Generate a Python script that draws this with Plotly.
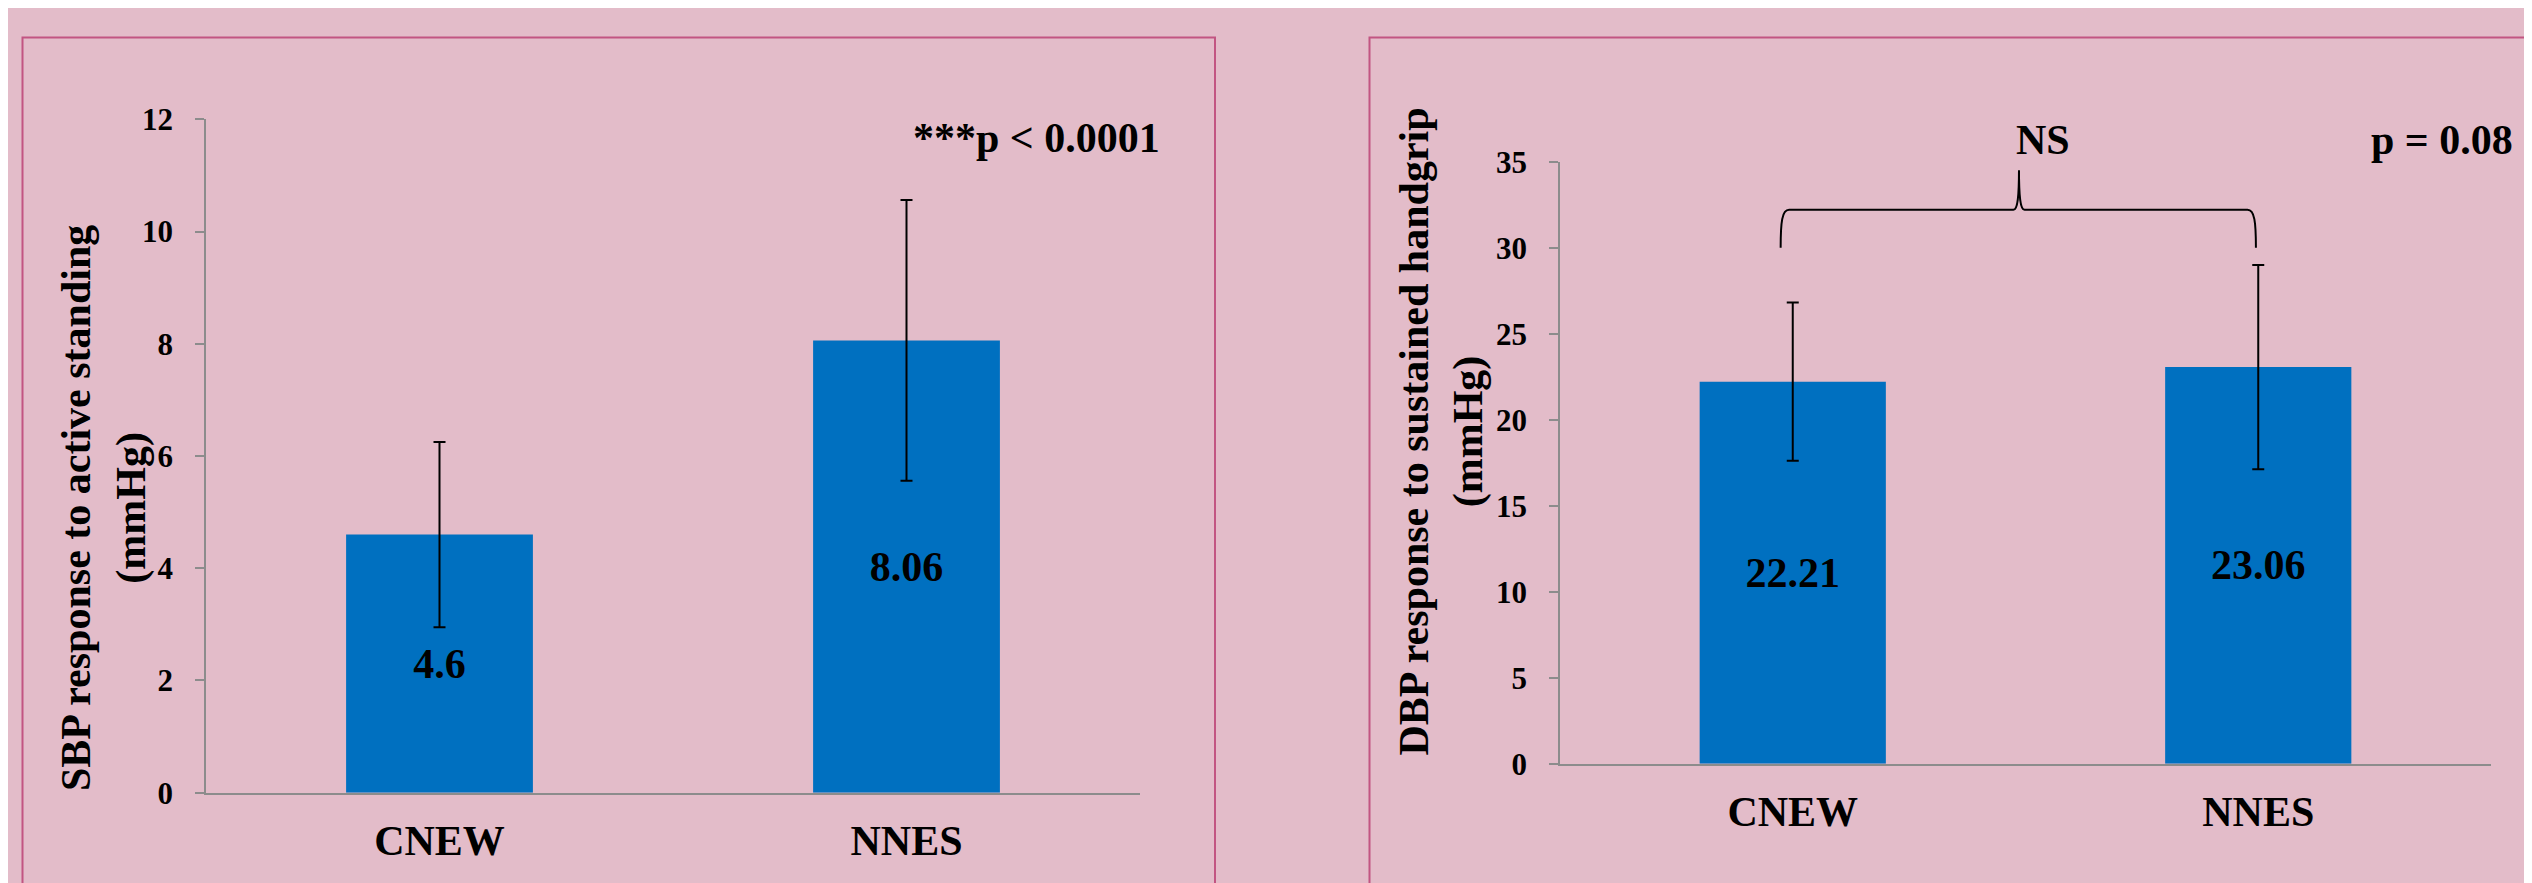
import plotly.graph_objects as go

# ---------------- data ----------------
categories = ["CNEW", "NNES"]
sbp_means = [4.6, 8.06]
sbp_err = [1.65, 2.5]
dbp_means = [22.21, 23.06]
dbp_err = [4.6, 5.94]
sbp_ticks = [0, 2, 4, 6, 8, 10, 12]
dbp_ticks = [0, 5, 10, 15, 20, 25, 30, 35]
sbp_title = "SBP response to active standing<br>(mmHg)"
dbp_title = "DBP response to sustained handgrip<br>(mmHg)"
sbp_note = "***p < 0.0001"
dbp_note = "p = 0.08"
brace_label = "NS"

# ---------------- style ----------------
W, H = 2532, 883
OFF = 8  # page body margin compensation
BG = "#E3BCC9"
BORDER = "#C25582"
BAR = "#0070C0"
AXIS = "#8C8C8C"
FONT = "Liberation Serif"
pos = list(range(len(categories)))

def px_x(p):
    return (p - OFF) / W

def px_y(p):
    return 1 - (p - OFF) / H

fig = go.Figure()

for i, (means, errs) in enumerate([(sbp_means, sbp_err), (dbp_means, dbp_err)]):
    sfx = "" if i == 0 else "2"
    fig.add_trace(go.Bar(
        x=pos, y=means, width=0.4,
        xaxis="x" + sfx, yaxis="y" + sfx,
        marker=dict(color=BAR, line=dict(width=0)),
        error_y=dict(type="data", array=errs, color="black", thickness=2, width=6),
        texttemplate="%{y}", textposition="inside", insidetextanchor="middle",
        textangle=0, constraintext="none",
        textfont=dict(family=FONT, size=42, color="black", weight="bold"),
        showlegend=False, hoverinfo="skip",
    ))

axis_common_x = dict(
    tickmode="array", tickvals=pos, ticktext=categories, range=[-0.5, 1.5],
    showline=True, linecolor=AXIS, linewidth=1.5, ticks="", showgrid=False,
    zeroline=False, ticklabelstandoff=10, automargin=False,
    tickfont=dict(family=FONT, size=42, color="black", weight="bold"),
)
axis_common_y = dict(
    showline=True, linecolor=AXIS, linewidth=1.5, ticks="outside", ticklen=9,
    tickcolor=AXIS, tickwidth=1.5, showgrid=False, zeroline=False,
    ticklabelstandoff=16, automargin=False,
    tickfont=dict(family=FONT, size=31, color="black", weight="bold"),
)

fig.update_layout(
    width=W, height=H, margin=dict(l=0, r=0, t=0, b=0, autoexpand=False),
    paper_bgcolor=BG, plot_bgcolor=BG,
    font=dict(family=FONT, color="black"),
    xaxis=dict(domain=[px_x(206), px_x(1140)], anchor="y", **axis_common_x),
    yaxis=dict(domain=[px_y(792.7), px_y(119.3)], anchor="x", range=[0, 12],
               tickvals=sbp_ticks, **axis_common_y),
    xaxis2=dict(domain=[px_x(1560), px_x(2491)], anchor="y2", **axis_common_x),
    yaxis2=dict(domain=[px_y(763.7), px_y(161.7)], anchor="x2", range=[0, 35],
                tickvals=dbp_ticks, **axis_common_y),
    bargap=0.6,
)

# panel borders
fig.add_shape(type="rect", xref="paper", yref="paper",
              x0=px_x(22.5), x1=px_x(1215), y0=-0.2, y1=px_y(37.5),
              line=dict(color=BORDER, width=2), fillcolor="rgba(0,0,0,0)", layer="below")
fig.add_shape(type="rect", xref="paper", yref="paper",
              x0=px_x(1369.5), x1=1.2, y0=-0.2, y1=px_y(37.5),
              line=dict(color=BORDER, width=2), fillcolor="rgba(0,0,0,0)", layer="below")

txt_font = dict(family=FONT, size=42, color="black", weight="bold")

# axis titles
fig.add_annotation(text=sbp_title, xref="paper", yref="paper", x=px_x(104), y=px_y(508),
                   xanchor="center", yanchor="middle", textangle=-90, showarrow=False,
                   font=txt_font)
fig.add_annotation(text=dbp_title, xref="paper", yref="paper", x=px_x(1441.5), y=px_y(432),
                   xanchor="center", yanchor="middle", textangle=-90, showarrow=False,
                   font=txt_font)

# significance notes (paper coordinates, above the plot areas)
fig.add_annotation(text=sbp_note, xref="paper", yref="paper", x=px_x(1036), y=px_y(138),
                   xanchor="center", yanchor="middle", showarrow=False, font=txt_font)
fig.add_annotation(text=dbp_note, xref="paper", yref="paper", x=px_x(2441.5), y=px_y(140),
                   xanchor="center", yanchor="middle", showarrow=False, font=txt_font)
fig.add_annotation(text=brace_label, xref="paper", yref="paper", x=px_x(2043), y=px_y(140),
                   xanchor="center", yanchor="middle", showarrow=False, font=txt_font)

# curly brace spanning the two groups (data coordinates)
xl, xm, xr = -0.026, 0.486, 0.995
y_end, y_bar, y_peak = 30.0, 32.2, 34.5
path = (
    f"M {xl},{y_end} C {xl},{y_end+1.5} {xl+0.003},{y_bar} {xl+0.018},{y_bar} "
    f"L {xm-0.012},{y_bar} C {xm-0.003},{y_bar} {xm},{y_bar+0.8} {xm},{y_peak} "
    f"C {xm},{y_bar+0.8} {xm+0.003},{y_bar} {xm+0.012},{y_bar} "
    f"L {xr-0.018},{y_bar} C {xr-0.003},{y_bar} {xr},{y_end+1.5} {xr},{y_end}"
)
fig.add_shape(type="path", xref="x2", yref="y2", path=path,
              line=dict(color="black", width=2))

fig.write_html("out.html")
